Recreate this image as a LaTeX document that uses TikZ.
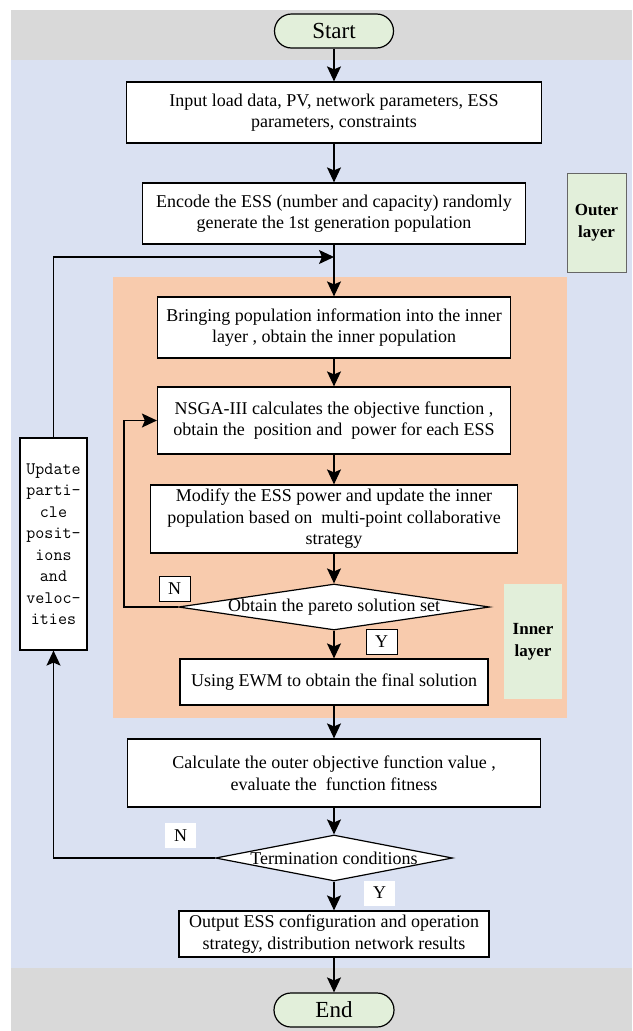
\documentclass[tikz,border=0pt]{standalone}
\usepackage{fontspec}
\setmainfont{Liberation Serif}
\usetikzlibrary{shapes.geometric,arrows.meta}
\definecolor{bggray}{RGB}{217,217,217}
\definecolor{bgblue}{RGB}{218,225,242}
\definecolor{bgorange}{RGB}{248,203,173}
\definecolor{lgreen}{RGB}{226,239,218}
\begin{document}
\begin{tikzpicture}[x=1pt,y=-1pt,
  font=\fontsize{18}{21.5}\selectfont,
  proc/.style={draw=black, line width=1.2pt, fill=white, align=center, inner sep=0pt},
  term/.style={draw=black, line width=1.2pt, fill=lgreen, rounded corners=17pt, inner sep=0pt, font=\fontsize{23}{27}\selectfont},
  decision/.style={draw=black, line width=1.2pt, fill=white, diamond, inner sep=0pt},
  flow/.style={line width=1.3pt, -{Stealth[length=15pt,width=14pt,inset=3pt]}},
  tagbox/.style={fill=white, minimum width=31, minimum height=25, inner sep=0pt},
  layerbox/.style={fill=lgreen, align=center, inner sep=0pt, font=\bfseries\fontsize{17}{22}\selectfont}
]
\useasboundingbox (0,0) rectangle (632,1031);
% backgrounds
\fill[bggray] (11,10) rectangle (632,1031);
\fill[bgblue] (11,60) rectangle (632,968);
\fill[bgorange] (113,277) rectangle (567,718);

% nodes
\node[term, minimum width=119, minimum height=34] (start) at (334,31) {Start};
\node[proc, minimum width=415, minimum height=61] (input) at (334,112.5) {Input load data, PV, network parameters, ESS\\parameters, constraints};
\node[proc, minimum width=383, minimum height=61] (encode) at (334,213.5) {Encode the ESS (number and capacity) randomly\\generate the 1st generation population};
\node[proc, minimum width=353, minimum height=61] (bring) at (334,327.5) {Bringing population information into the inner\\layer , obtain the inner population};
\node[proc, minimum width=353, minimum height=67] (nsga) at (334,420.5) {NSGA-III calculates the objective function ,\\obtain the\ \ position and\ \ power for each ESS};
\node[proc, minimum width=367, minimum height=68] (modify) at (334,519) {Modify the ESS power and update the inner\\population based on\ \ multi-point collaborative\\strategy};
\node[decision, minimum width=311, minimum height=46] (dia1) at (334,607) {};
\node (dia1t) at (334,607) {Obtain the pareto solution set};
\node[proc, minimum width=308, minimum height=46] (ewm) at (334,682) {Using EWM to obtain the final solution};
\node[proc, minimum width=413, minimum height=68] (calc) at (334,773) {Calculate the outer objective function value ,\\evaluate the\ \ function fitness};
\node[decision, minimum width=237, minimum height=46] (dia2) at (334,858) {};
\node (dia2t) at (334,858) {Termination conditions};
\node[proc, minimum width=310, minimum height=46] (output) at (334,934) {Output ESS configuration and operation\\strategy, distribution network results};
\node[term, minimum width=120, minimum height=34] (end) at (334,1010) {End};
\node[proc, minimum width=67, minimum height=212, font=\fontsize{17.5}{21.5}\ttfamily] (update) at (53.5,544) {Update\\parti-\\cle\\posit-\\ions\\and\\veloc-\\ities};

% tags
\node[tagbox, draw=black, line width=1pt] (n1) at (174.5,588.5) {N};
\node[tagbox, draw=black, line width=1pt] (y1) at (381.5,641.5) {Y};
\node[tagbox] (n2) at (180.5,835.5) {N};
\node[tagbox] (y2) at (379.5,893) {Y};

% layer labels
\node[layerbox, draw=black!60, line width=0.8pt, minimum width=59, minimum height=99] (outer) at (596.5,222.5) {Outer\\layer};
\node[layerbox, minimum width=58, minimum height=115] (inner) at (533,641.5) {Inner\\layer};

% connectors
\coordinate (join) at (334,257);
\draw[flow] (start) -- (input);
\draw[flow] (input) -- (encode);
\draw[flow] (encode) -- (bring);
\draw[flow] (bring) -- (nsga);
\draw[flow] (nsga) -- (modify);
\draw[flow] (modify) -- (dia1);
\draw[flow] (dia1) -- (ewm);
\draw[flow] (ewm) -- (calc);
\draw[flow] (calc) -- (dia2);
\draw[flow] (dia2) -- (output);
\draw[flow] (output) -- (end);
\draw[flow] (dia1.west) -- ++(-54,0) |- (nsga.west);
\draw[flow] (update.north) |- (join);
\draw[flow] (dia2.west) -| (update.south);
\end{tikzpicture}
\end{document}
